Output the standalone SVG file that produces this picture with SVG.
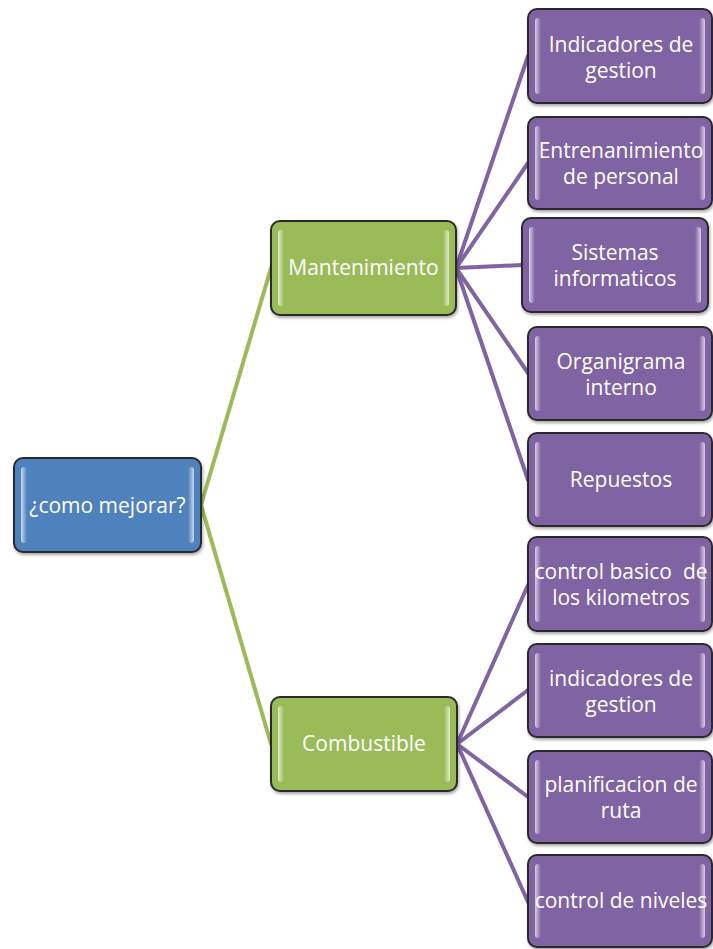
<svg xmlns="http://www.w3.org/2000/svg" width="713" height="949" viewBox="0 0 713 949">
<defs>
<style>
.box{stroke:#2b2b2b;stroke-width:2;filter:url(#sh);}
.blue{fill:#4f81bd;}
.green{fill:#9bbb59;}
.purple{fill:#8064a2;}
.t{font-family:"Open Sans","Liberation Sans",sans-serif;font-size:21px;fill:#ffffff;text-anchor:middle;white-space:pre;}
.gl{stroke:#9bbb59;stroke-width:4;fill:none;stroke-linecap:round;}
.pl{stroke:#8064a2;stroke-width:4;fill:none;stroke-linecap:round;}
.sl{fill:url(#gL);}
.sr{fill:url(#gR);}
</style>
<linearGradient id="gL" x1="0" y1="0" x2="1" y2="0">
<stop offset="0" stop-color="#ffffff" stop-opacity="0.7"/>
<stop offset="1" stop-color="#ffffff" stop-opacity="0"/>
</linearGradient>
<linearGradient id="gR" x1="0" y1="0" x2="1" y2="0">
<stop offset="0" stop-color="#ffffff" stop-opacity="0"/>
<stop offset="1" stop-color="#ffffff" stop-opacity="0.7"/>
</linearGradient>
<filter id="sh" x="-10%" y="-10%" width="125%" height="130%">
<feDropShadow dx="1" dy="2" stdDeviation="1.5" flood-color="#000" flood-opacity="0.35"/>
</filter>
</defs>

<g id="connectors">
<line class="gl" x1="201" y1="505" x2="271" y2="268"/>
<line class="gl" x1="201" y1="505" x2="271" y2="744"/>
<line class="pl" x1="456" y1="268" x2="528" y2="56"/>
<line class="pl" x1="456" y1="268" x2="528" y2="163"/>
<line class="pl" x1="456" y1="268" x2="522" y2="265"/>
<line class="pl" x1="456" y1="268" x2="528" y2="373"/>
<line class="pl" x1="456" y1="268" x2="528" y2="480"/>
<line class="pl" x1="457" y1="744" x2="528" y2="585"/>
<line class="pl" x1="457" y1="744" x2="528" y2="690"/>
<line class="pl" x1="457" y1="744" x2="528" y2="797"/>
<line class="pl" x1="457" y1="744" x2="528" y2="902"/>
</g>

<g id="root">
<rect class="box blue" x="14" y="458" width="187" height="94" rx="9"/>
<rect class="sl" x="21" y="467" width="6" height="76" rx="3"/>
<rect class="sr" x="188" y="467" width="6" height="76" rx="3"/>
<text class="t" x="107.5" y="513">¿como mejorar?</text>
</g>

<g id="mantenimiento">
<rect class="box green" x="271" y="221" width="185" height="94" rx="9"/>
<rect class="sl" x="278" y="230" width="6" height="76" rx="3"/>
<rect class="sr" x="443" y="230" width="6" height="76" rx="3"/>
<text class="t" x="363.5" y="275">Mantenimiento</text>
</g>

<g id="combustible">
<rect class="box green" x="271" y="697" width="186" height="94" rx="9"/>
<rect class="sl" x="278" y="706" width="6" height="76" rx="3"/>
<rect class="sr" x="444" y="706" width="6" height="76" rx="3"/>
<text class="t" x="364" y="751">Combustible</text>
</g>

<g id="indicadores1">
<rect class="box purple" x="528" y="9" width="184" height="94" rx="9"/>
<rect class="sl" x="535" y="18" width="6" height="76" rx="3"/>
<rect class="sr" x="699" y="18" width="6" height="76" rx="3"/>
<text class="t" x="621" y="52">Indicadores de</text>
<text class="t" x="621" y="78">gestion</text>
</g>

<g id="entrenanimiento">
<rect class="box purple" x="528" y="117" width="184" height="92" rx="9"/>
<rect class="sl" x="535" y="126" width="6" height="74" rx="3"/>
<rect class="sr" x="699" y="126" width="6" height="74" rx="3"/>
<text class="t" x="621" y="158">Entrenanimiento</text>
<text class="t" x="621" y="184">de personal</text>
</g>

<g id="sistemas">
<rect class="box purple" x="522" y="218" width="186" height="94" rx="9"/>
<rect class="sl" x="529" y="227" width="6" height="76" rx="3"/>
<rect class="sr" x="695" y="227" width="6" height="76" rx="3"/>
<text class="t" x="615" y="260">Sistemas</text>
<text class="t" x="615" y="286">informaticos</text>
</g>

<g id="organigrama">
<rect class="box purple" x="528" y="327" width="184" height="93" rx="9"/>
<rect class="sl" x="535" y="336" width="6" height="75" rx="3"/>
<rect class="sr" x="699" y="336" width="6" height="75" rx="3"/>
<text class="t" x="621" y="369">Organigrama</text>
<text class="t" x="621" y="395">interno</text>
</g>

<g id="repuestos">
<rect class="box purple" x="528" y="433" width="184" height="93" rx="9"/>
<rect class="sl" x="535" y="442" width="6" height="75" rx="3"/>
<rect class="sr" x="699" y="442" width="6" height="75" rx="3"/>
<text class="t" x="621" y="487">Repuestos</text>
</g>

<g id="control-basico">
<rect class="box purple" x="528" y="537" width="184" height="94" rx="9"/>
<rect class="sl" x="535" y="546" width="6" height="76" rx="3"/>
<rect class="sr" x="699" y="546" width="6" height="76" rx="3"/>
<text class="t" x="621" y="579">control basico  de</text>
<text class="t" x="621" y="605">los kilometros</text>
</g>

<g id="indicadores2">
<rect class="box purple" x="528" y="644" width="184" height="93" rx="9"/>
<rect class="sl" x="535" y="653" width="6" height="75" rx="3"/>
<rect class="sr" x="699" y="653" width="6" height="75" rx="3"/>
<text class="t" x="621" y="686">indicadores de</text>
<text class="t" x="621" y="712">gestion</text>
</g>

<g id="planificacion">
<rect class="box purple" x="528" y="751" width="184" height="92" rx="9"/>
<rect class="sl" x="535" y="760" width="6" height="74" rx="3"/>
<rect class="sr" x="699" y="760" width="6" height="74" rx="3"/>
<text class="t" x="621" y="792">planificacion de</text>
<text class="t" x="621" y="818">ruta</text>
</g>

<g id="control-niveles">
<rect class="box purple" x="528" y="855" width="184" height="92" rx="9"/>
<rect class="sl" x="535" y="864" width="6" height="74" rx="3"/>
<rect class="sr" x="699" y="864" width="6" height="74" rx="3"/>
<text class="t" x="621" y="908">control de niveles</text>
</g>
</svg>
